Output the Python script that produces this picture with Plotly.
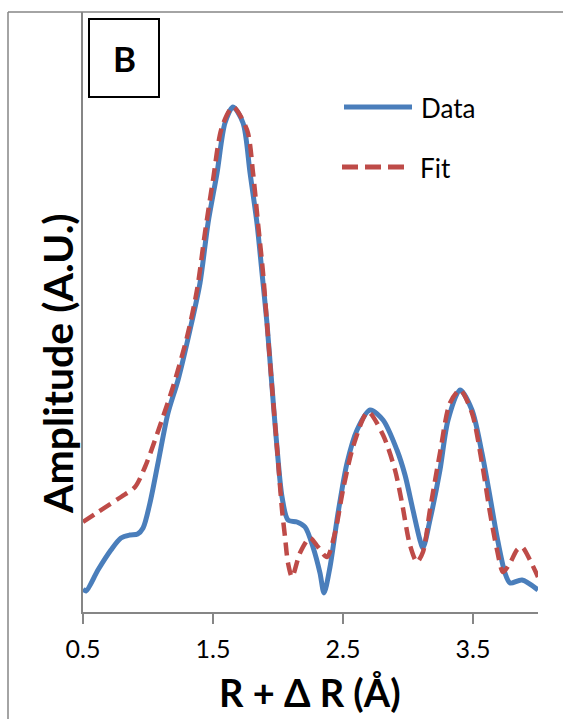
import plotly.graph_objects as go

# ---- data (R + ΔR in Å, amplitude in arbitrary units) ----
data_r = [0.500, 0.523, 0.615, 0.715, 0.792, 0.860, 0.920, 0.962, 1.015, 1.077, 1.154,
          1.231, 1.323, 1.400, 1.462, 1.531, 1.592, 1.654, 1.731, 1.785, 1.838,
          1.877, 1.915, 1.954, 1.992, 2.031, 2.077, 2.146, 2.208, 2.269, 2.323,
          2.354, 2.400, 2.462, 2.531, 2.608, 2.708, 2.808, 2.915, 2.977, 3.038,
          3.092, 3.115, 3.169, 3.246, 3.308, 3.400, 3.492, 3.569, 3.631, 3.685,
          3.746, 3.785, 3.877, 4.000]
data_amp = [0.23, 0.21, 0.42, 0.62, 0.74, 0.77, 0.78, 0.84, 1.09, 1.49, 1.99,
            2.32, 2.82, 3.29, 3.89, 4.39, 4.89, 5.05, 4.89, 4.39, 3.89,
            3.39, 2.89, 2.25, 1.65, 1.15, 0.92, 0.90, 0.85, 0.65, 0.39,
            0.19, 0.45, 0.99, 1.49, 1.82, 2.02, 1.92, 1.62, 1.37, 1.02,
            0.72, 0.64, 0.92, 1.42, 1.92, 2.22, 2.02, 1.59, 1.15, 0.75,
            0.39, 0.29, 0.32, 0.22]

fit_r = [0.500, 0.615, 0.792, 0.900, 0.977, 1.054, 1.115, 1.192, 1.300, 1.377,
         1.438, 1.500, 1.569, 1.654, 1.762, 1.808, 1.846, 1.885, 1.915, 1.954,
         1.992, 2.031, 2.054, 2.077, 2.108, 2.169, 2.246, 2.308, 2.377, 2.438,
         2.500, 2.577, 2.692, 2.808, 2.900, 2.954, 3.015, 3.069, 3.115, 3.169,
         3.246, 3.323, 3.400, 3.492, 3.569, 3.631, 3.685, 3.731, 3.785, 3.838,
         3.877, 3.938, 4.000]
fit_amp = [0.90, 1.00, 1.15, 1.25, 1.45, 1.72, 1.95, 2.25, 2.75, 3.22,
           3.79, 4.32, 4.85, 5.05, 4.82, 4.39, 3.89, 3.39, 2.89, 2.25,
           1.65, 1.02, 0.75, 0.49, 0.35, 0.59, 0.74, 0.65, 0.55, 0.79,
           1.22, 1.65, 2.00, 1.77, 1.42, 1.09, 0.67, 0.50, 0.60, 1.02,
           1.59, 2.09, 2.22, 1.99, 1.49, 0.99, 0.62, 0.40, 0.49, 0.62,
           0.65, 0.52, 0.35]

x_ticks = [0.5, 1.5, 2.5, 3.5]
x_tick_labels = ["0.5", "1.5", "2.5", "3.5"]
series_names = ["Data", "Fit"]
panel_label = "B"
x_title = "R + Δ R (Å)"
y_title = "Amplitude (A.U.)"

BLUE = "#4A7EBB"
RED = "#BE4B48"
GRAY = "#868686"
FONT = "Lato, Calibri, Carlito, sans-serif"

fig = go.Figure()
fig.add_trace(go.Scatter(x=data_r, y=data_amp, mode="lines", name=series_names[0],
                         line=dict(color=BLUE, width=5, shape="spline", smoothing=0.8)))
fig.add_trace(go.Scatter(x=fit_r, y=fit_amp, mode="lines", name=series_names[1],
                         line=dict(color=RED, width=4.5, shape="spline", smoothing=0.8,
                                   dash="13px,7px")))

W, H = 563, 719
L, R_, T, B = 83, 25, 12, 107
pw, ph = W - L - R_, H - T - B


def px(x):
    return (x - L) / pw


def py(y):
    return (H - B - y) / ph


shapes = [
    # blank strip at the right edge of the figure
    dict(type="rect", xref="paper", yref="paper", x0=px(542), x1=px(566), y0=py(14), y1=py(722),
         line=dict(width=0), fillcolor="white", layer="above"),
    # outer chart frame (left and top edges visible)
    dict(type="line", xref="paper", yref="paper", x0=px(8), x1=px(8), y0=py(12), y1=py(719),
         line=dict(color=GRAY, width=1.5)),
    dict(type="line", xref="paper", yref="paper", x0=px(8), x1=px(563), y0=py(12), y1=py(12),
         line=dict(color=GRAY, width=1.5)),
    # panel label box
    dict(type="rect", xref="paper", yref="paper", x0=px(89), x1=px(159), y0=py(97), y1=py(19),
         line=dict(color="black", width=2), fillcolor="white"),
    # legend samples
    dict(type="line", xref="paper", yref="paper", x0=px(344), x1=px(412), y0=py(107), y1=py(107),
         line=dict(color=BLUE, width=5)),
    dict(type="line", xref="paper", yref="paper", x0=px(342), x1=px(404), y0=py(167), y1=py(167),
         line=dict(color=RED, width=5, dash="16px,7px")),
]

annotations = [
    dict(text=f"<b>{panel_label}</b>", xref="paper", yref="paper", x=px(124), y=py(58),
         showarrow=False, font=dict(family=FONT, size=35, color="black"),
         xanchor="center", yanchor="middle"),
    dict(text=series_names[0], xref="paper", yref="paper", x=px(419), y=py(108),
         showarrow=False, font=dict(family=FONT, size=26, color="black"),
         xanchor="left", yanchor="middle"),
    dict(text=series_names[1], xref="paper", yref="paper", x=px(418), y=py(168),
         showarrow=False, font=dict(family=FONT, size=26, color="black"),
         xanchor="left", yanchor="middle"),
    dict(text=f"<b>{x_title}</b>", xref="paper", yref="paper", x=px(310), y=py(692),
         showarrow=False, font=dict(family=FONT, size=38, color="black"),
         xanchor="center", yanchor="middle"),
    dict(text=f"<b>{y_title}</b>", xref="paper", yref="paper", x=px(57), y=py(364),
         showarrow=False, textangle=-90, font=dict(family=FONT, size=41, color="black"),
         xanchor="center", yanchor="middle"),
]

fig.update_layout(
    width=W, height=H,
    margin=dict(l=L, r=R_, t=T, b=B),
    paper_bgcolor="white", plot_bgcolor="white",
    showlegend=False,
    shapes=shapes,
    annotations=annotations,
    xaxis=dict(range=[0.5, 4.0], tickvals=x_ticks, ticktext=x_tick_labels,
               showgrid=False, zeroline=False, showline=True, linecolor=GRAY, linewidth=1.5,
               ticks="outside", ticklen=10, tickwidth=1.5, tickcolor=GRAY,
               tickfont=dict(family=FONT, size=25, color="black"), ticklabelstandoff=4),
    yaxis=dict(range=[0, 6.0], showgrid=False, zeroline=False, showline=True,
               linecolor=GRAY, linewidth=1.5, showticklabels=False, ticks=""),
)

fig.write_html(
    "out.html",
    config={"displayModeBar": False},
    post_script=(
        "document.documentElement.style.margin='0';"
        "document.documentElement.style.overflow='hidden';"
        "document.body.style.margin='0';document.body.style.overflow='hidden';"
    ),
)
